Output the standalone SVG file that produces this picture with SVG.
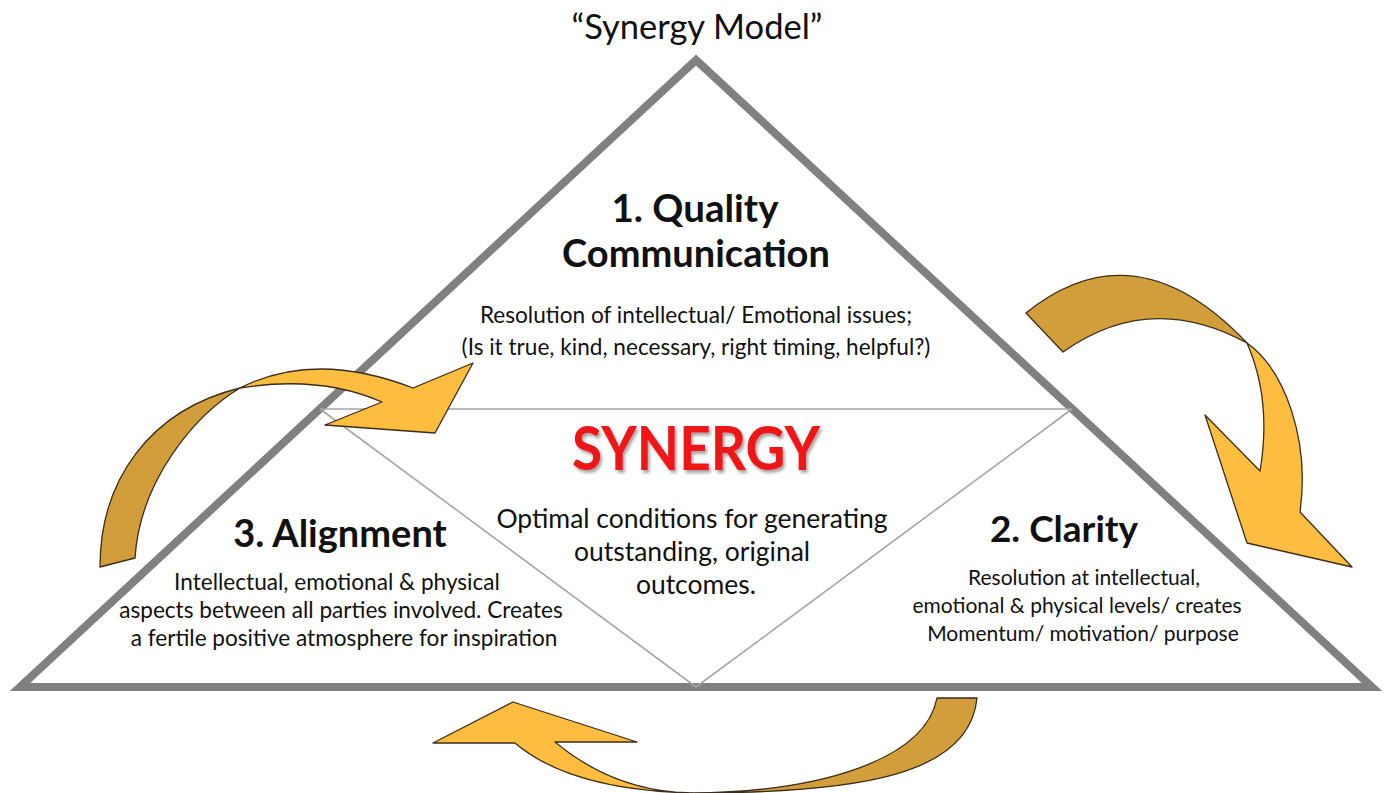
<svg xmlns="http://www.w3.org/2000/svg" width="1394" height="793" viewBox="0 0 1394 793">
<defs>
<style>
.t{font-family:Lato,"Open Sans","Liberation Sans",sans-serif;fill:#111;text-anchor:middle}
.b{font-weight:bold}
.s{font-size:22.6px}
.c{font-size:21px}
.dark{fill:#D29E3B;stroke:#3a2e1a;stroke-width:1.3;stroke-linejoin:round}
.light{fill:#FDBD40;stroke:#3a2e1a;stroke-width:1.3;stroke-linejoin:round}
.thin{fill:none;stroke:#a6a6a6;stroke-width:1.6}
</style>
<filter id="sh" x="-10%" y="-20%" width="130%" height="150%">
<feDropShadow dx="2" dy="3" stdDeviation="1.5" flood-color="#000" flood-opacity="0.35"/>
</filter>
</defs>
<rect width="1394" height="793" fill="#fff"/>
<text class="t" x="697" y="39" font-size="34.5">“Synergy Model”</text>
<g id="triangle">
<polygon points="696,60 1372,687 20,687" fill="none" stroke="#808080" stroke-width="8" stroke-linejoin="miter"/>
<polyline class="thin" points="320,409 1072,409"/>
<polyline class="thin" points="320,409 696,687 1072,409"/>
</g>
<g id="node-quality">
<text class="t b" x="695" y="222" font-size="38.5">1. Quality</text>
<text class="t b" x="696" y="267" font-size="38">Communication</text>
<text class="t s" x="696" y="323">Resolution of intellectual/ Emotional issues;</text>
<text class="t s" x="696" y="355">(Is it true, kind, necessary, right timing, helpful?)</text>
</g>
<g id="node-synergy">
<text class="t b" x="696" y="470" font-size="62" textLength="248" lengthAdjust="spacingAndGlyphs" style="fill:#ee1515" filter="url(#sh)">SYNERGY</text>
<text class="t" x="692" y="528" font-size="26.5">Optimal conditions for generating</text>
<text class="t" x="692" y="561" font-size="26.5">outstanding, original</text>
<text class="t" x="696" y="594" font-size="26.5">outcomes.</text>
</g>
<g id="node-alignment">
<text class="t b" x="340" y="547" font-size="38">3. Alignment</text>
<text class="t s" x="337" y="590">Intellectual, emotional &amp; physical</text>
<text class="t s" x="341" y="618">aspects between all parties involved. Creates</text>
<text class="t s" x="344" y="646">a fertile positive atmosphere for inspiration</text>
</g>
<g id="node-clarity">
<text class="t b" x="1064" y="542" font-size="37">2. Clarity</text>
<text class="t c" x="1084" y="585">Resolution at intellectual,</text>
<text class="t c" x="1077" y="613">emotional &amp; physical levels/ creates</text>
<text class="t c" x="1083" y="641">Momentum/ motivation/ purpose</text>
</g>
<g id="connectors">
<g id="arrow-1-2">
<path class="dark" d="M1026,313 Q1135,225 1247,343 Q1150,290 1063,352 Z"/>
<path class="light" d="M1247,343 C1285,370 1310,440 1300,512 L1352,567 L1247,543 L1205,415 L1260,471 Q1272,400 1247,343 Z"/>
</g>
<g id="arrow-2-3">
<path class="dark" d="M937,698 L977,698 C970,775 860,793 692,793 C820,792 925,760 937,698 Z"/>
<path class="light" d="M692,793 Q570,790 515,743 L433,743 L513,702 L637,742 L555,742 Q615,792 692,793 Z"/>
</g>
<g id="arrow-3-1">
<path class="dark" d="M100,567 C100,480 150,410 240,388 C195,415 140,480 135,558 Z"/>
<path class="light" d="M240,388 Q315,350 413,388 L473,363 L435,433 L325,425 L382,402 Q320,375 240,388 Z"/>
</g>
</g>
</svg>
